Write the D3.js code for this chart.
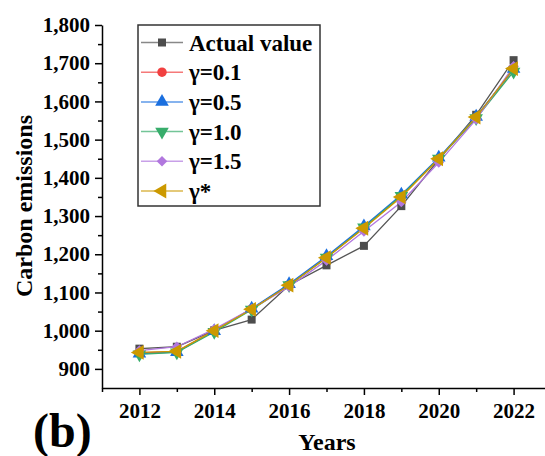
<!DOCTYPE html>
<html>
<head>
<meta charset="utf-8">
<script src="https://cdn.jsdelivr.net/npm/d3@7"></script>
<style>
  body { margin: 0; background: #fff; }
  svg text { font-family: "Liberation Serif", Tinos, "Times New Roman", Times, "DejaVu Serif", serif; font-weight: bold; }
</style>
</head>
<body>
<div id="chart"></div>
<script>
// carbon emissions, actual vs fitted with different gamma
const years = [2012, 2013, 2014, 2015, 2016, 2017, 2018, 2019, 2020, 2021, 2022];
const actual = [953, 958, 1001, 1029, 1119, 1171, 1222, 1326, 1448, 1565, 1708];
const g01 = [942, 946, 1000, 1057, 1120, 1192, 1270, 1352, 1450, 1558, 1684];
const g05 = [940, 944, 999, 1058, 1122, 1195, 1273, 1356, 1453, 1560, 1685];
const g10 = [938, 943, 997, 1055, 1119, 1191, 1270, 1353, 1450, 1556, 1678];
const g15 = [948, 958, 1004, 1057, 1115, 1184, 1260, 1337, 1440, 1553, 1692];
const gStar = [943, 946, 1000, 1056, 1119, 1191, 1268, 1350, 1450, 1559, 1686];

const seriesNames = ["Actual value", "γ=0.1", "γ=0.5", "γ=1.0", "γ=1.5", "γ*"];
const yTicks = [900, 1000, 1100, 1200, 1300, 1400, 1500, 1600, 1700, 1800];
const xTicks = [2012, 2014, 2016, 2018, 2020, 2022];

const width = 545, height = 456;
const margin = {top: 25, bottom: 68, left: 102, right: -6};
const serif = "'Liberation Serif', Tinos, 'Times New Roman', Times, 'DejaVu Serif', serif";

const series = [
    {name: seriesNames[0], values: actual, color: "#4d4d4d", line: "#555", symbol: d3.symbolSquare, size: 64, rot: 0},
    {name: seriesNames[1], values: g01, color: "#f14040", line: "#f14040", symbol: d3.symbolCircle, size: 70, rot: 0},
    {name: seriesNames[2], values: g05, color: "#1a6fdf", line: "#1a6fdf", symbol: d3.symbolTriangle, size: 80, rot: 0},
    {name: seriesNames[3], values: g10, color: "#37ad6b", line: "#37ad6b", symbol: d3.symbolTriangle, size: 80, rot: 180},
    {name: seriesNames[4], values: g15, color: "#b177de", line: "#b177de", symbol: d3.symbolSquare, size: 56, rot: 45},
    {name: seriesNames[5], values: gStar, color: "#cc9900", line: "#cc9900", symbol: d3.symbolTriangle, size: 95, rot: -90}
];

const svg = d3.select("#chart")
    .append("svg")
    .attr("width", width)
    .attr("height", height);

const x = d3.scaleLinear()
    .domain([2011, 2023])
    .range([margin.left, width - margin.right]);
const y = d3.scaleLinear()
    .domain([850, 1800])
    .range([height - margin.bottom, margin.top]);

// minor ticks
svg.append("g")
    .attr("transform", `translate(0,${y(850)})`)
    .call(d3.axisBottom(x).tickValues(d3.range(2011, 2024, 2)).tickSize(4).tickFormat(""))
    .call(g => g.select(".domain").remove())
    .selectAll("line").attr("stroke-width", 1.5);
svg.append("g")
    .attr("transform", `translate(${x(2011)},0)`)
    .call(d3.axisLeft(y).tickValues(d3.range(950, 1800, 100)).tickSize(4).tickFormat(""))
    .call(g => g.select(".domain").remove())
    .selectAll("line").attr("stroke-width", 1.5);

// major axes
const xAxis = svg.append("g")
    .attr("transform", `translate(0,${y(850)})`)
    .call(d3.axisBottom(x).tickValues(xTicks).tickSize(7).tickSizeOuter(0).tickPadding(8).tickFormat(d3.format("d")));
const yAxis = svg.append("g")
    .attr("transform", `translate(${x(2011)},0)`)
    .call(d3.axisLeft(y).tickValues(yTicks).tickSize(7).tickSizeOuter(0).tickPadding(5).tickFormat(d3.format(",")));

[xAxis, yAxis].forEach(a => {
    a.attr("font-family", serif);
    a.select(".domain").attr("stroke-width", 1.5);
    a.selectAll("line").attr("stroke-width", 1.5);
    a.selectAll("text")
        .attr("fill", "#000")
        .style("font-size", "21px");
});

// axis titles
svg.append("text")
    .attr("transform", "rotate(-90)")
    .attr("x", -206)
    .attr("y", 32)
    .attr("text-anchor", "middle")
    .style("font-size", "24px")
    .text("Carbon emissions");
svg.append("text")
    .attr("x", 327)
    .attr("y", 450)
    .attr("text-anchor", "middle")
    .style("font-size", "24px")
    .text("Years");
svg.append("text")
    .attr("x", 33)
    .attr("y", 447)
    .style("font-size", "48px")
    .text("(b)");

// lines and markers
const line = d3.line()
    .x((d, i) => x(years[i]))
    .y(d => y(d));

series.forEach(s => {
    svg.append("path")
        .datum(s.values)
        .attr("fill", "none")
        .attr("stroke", s.line)
        .attr("stroke-width", 1.3)
        .attr("d", line);
});
series.forEach(s => {
    svg.append("g")
        .selectAll("path")
        .data(s.values)
        .enter()
        .append("path")
        .attr("d", d3.symbol().type(s.symbol).size(s.size))
        .attr("transform", (d, i) => `translate(${x(years[i])},${y(d)}) rotate(${s.rot})`)
        .attr("fill", s.color);
});

// legend
const legend = svg.append("g");
legend.append("rect")
    .attr("x", 138)
    .attr("y", 25)
    .attr("width", 182)
    .attr("height", 181)
    .attr("fill", "#fff")
    .attr("stroke", "#333")
    .attr("stroke-width", 1.5);
series.forEach((s, i) => {
    const ly = 42.5 + i * 29.7;
    legend.append("line")
        .attr("x1", 141)
        .attr("x2", 183)
        .attr("y1", ly)
        .attr("y2", ly)
        .attr("stroke", s.line)
        .attr("stroke-opacity", 0.7)
        .attr("stroke-width", 1.5);
    legend.append("path")
        .attr("d", d3.symbol().type(s.symbol).size(s.size))
        .attr("transform", `translate(162,${ly}) rotate(${s.rot})`)
        .attr("fill", s.color);
    legend.append("text")
        .attr("x", 189)
        .attr("y", ly + 8)
        .style("font-size", "23px")
        .text(s.name);
});
</script>
</body>
</html>
